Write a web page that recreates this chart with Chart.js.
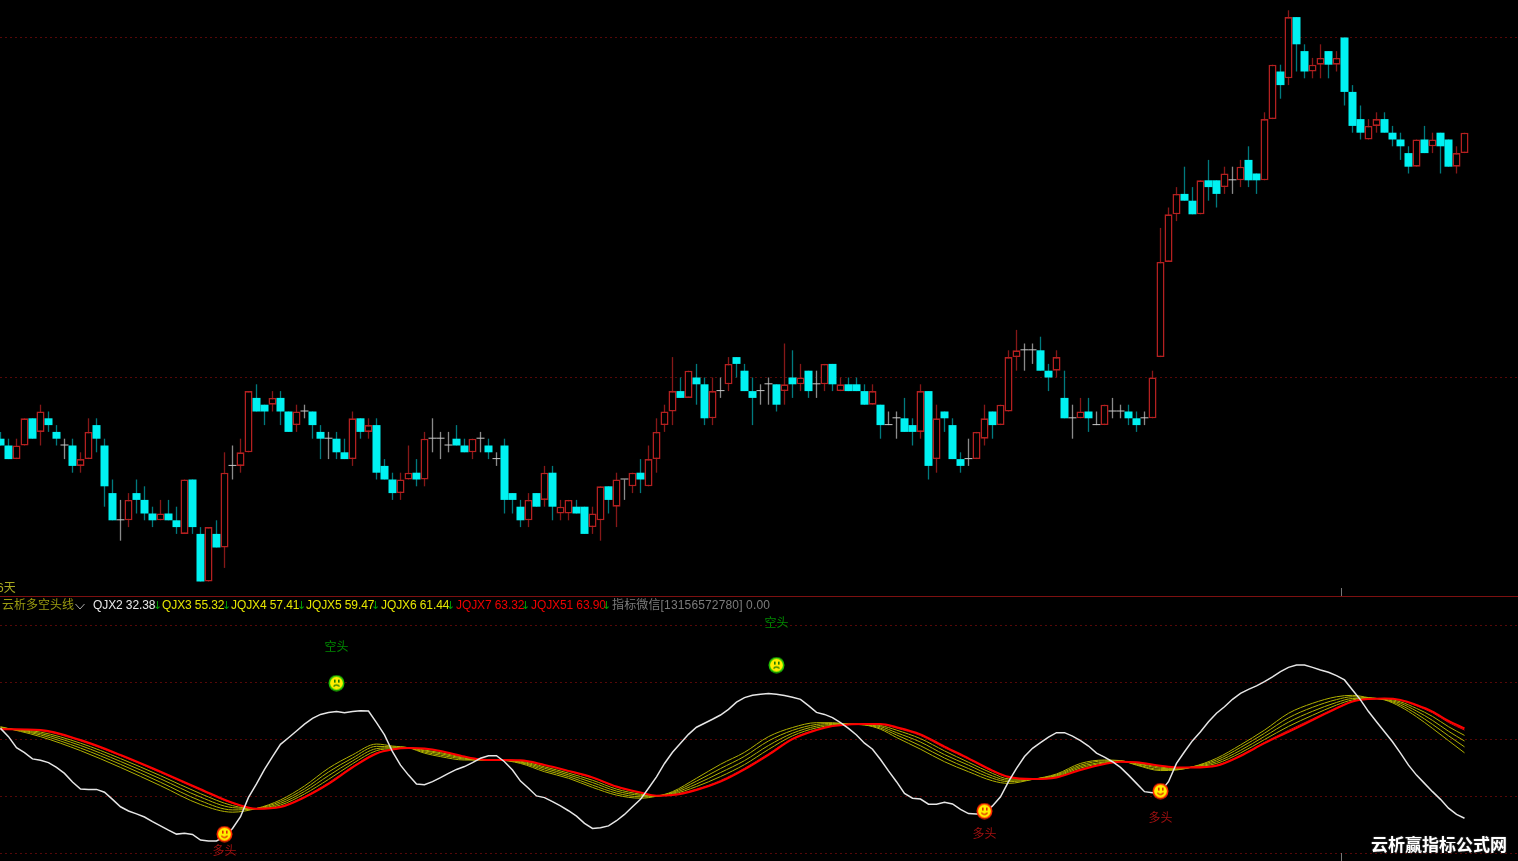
<!DOCTYPE html>
<html>
<head>
<meta charset="utf-8">
<title>云析多空头线</title>
<script src="https://cdn.jsdelivr.net/npm/chart.js@4/dist/chart.umd.min.js"></script>
<style>
  html, body { margin: 0; background: #000; overflow: hidden; }
  #wrap { position: relative; width: 1518px; height: 861px; background: #000; overflow: hidden; }
  canvas { position: absolute; left: 0; }
  #price { top: 0; }
  #sep { position: absolute; left: 0; top: 596px; width: 1518px; height: 1px; background: #7c1010; }
  #ind { top: 597px; }
  .t { position: absolute; white-space: pre; font: 12px "Liberation Sans", "Noto Sans CJK SC", sans-serif; line-height: 14px; }
  .tick { position: absolute; left: 1341px; width: 1px; background: #777; }
  #mark { position: absolute; left: 1371px; top: 832px; font: bold 17px "Noto Sans CJK SC", sans-serif; line-height: 24px; color: #fff; text-shadow: 0 0 2px #555; white-space: pre; }
</style>
</head>
<body>
<div id="wrap">
  <canvas id="price" width="1518" height="596"></canvas>
  <div id="sep"></div>
  <canvas id="ind" width="1518" height="264"></canvas>
  <div class="tick" style="top:588px;height:8px"></div>
  <div class="tick" style="top:853px;height:8px"></div>
  <div class="t" style="left:-3px;top:581px;color:#a8a820">6天</div>
  <div id="legend"></div>
  <div id="mark">云析赢指标公式网</div>
</div>
<script>
// candles, one per bar (8px apart), price in ticks
const opens = [91,90,88,90,94,92,94,92,90,90,87,88,93,90,83,79,79,83,82,80,79,80,79,77,85,77,70,77,75,87,87,89,97,96,96,97,95,93,95,95,92,91,91,89,88,94,92,93,87,85,83,85,86,85,91,91,90,91,90,89,91,90,88,90,83,81,79,83,82,86,80,80,81,81,78,79,84,81,85,84,86,84,88,93,95,98,97,100,99,94,98,99,103,101,98,98,99,99,98,100,99,101,99,99,102,98,99,99,98,96,96,93,94,94,93,92,98,88,95,93,88,88,88,91,95,93,95,103,104,104,104,101,101,97,94,94,95,93,93,95,95,95,94,94,94,103,117,124,127,126,124,129,129,128,129,129,132,130,129,138,145,144,153,148,145,146,148,146,150,142,138,135,137,138,136,135,133,131,135,134,136,135,131,133];
const highs = [92,91,91,94,94,96,95,93,91,91,89,94,94,91,85,82,83,85,84,81,82,82,81,85,85,78,78,79,89,90,91,98,99,96,98,98,95,96,96,95,93,92,92,91,95,94,94,94,88,86,86,90,88,92,94,92,92,93,91,91,92,91,89,91,83,82,83,83,87,87,82,82,82,81,81,84,84,86,85,86,88,90,94,96,103,100,101,102,100,100,100,103,103,102,100,99,100,99,105,104,102,101,101,102,102,100,100,100,99,99,96,95,95,97,94,99,98,96,95,94,89,91,92,96,95,96,104,107,105,105,106,102,104,101,96,97,97,95,96,97,96,96,95,95,101,122,125,128,131,128,129,132,129,131,131,132,134,130,139,146,146,154,153,149,147,149,148,148,150,143,140,138,139,139,137,136,134,135,137,136,136,135,134,136];
const lows = [90,88,88,90,91,90,92,90,88,86,86,88,89,81,79,76,78,80,79,78,79,79,77,77,77,70,70,75,72,85,86,89,95,93,95,93,92,92,94,91,88,88,88,88,87,91,91,85,85,82,82,85,84,84,89,88,89,90,89,88,89,88,87,80,80,78,78,81,81,79,79,79,80,77,77,76,80,78,82,83,83,84,86,92,93,97,97,96,93,93,97,98,100,98,93,96,96,95,96,97,98,97,97,98,98,98,98,98,96,96,91,93,91,92,90,91,85,86,92,88,86,87,88,90,91,93,95,101,101,102,101,98,100,94,91,94,92,93,93,94,94,93,92,93,94,103,117,123,126,124,124,126,125,127,127,128,128,127,129,138,141,143,145,144,144,144,144,145,140,136,135,135,136,136,134,132,130,131,133,133,130,131,130,133];
const closes = [90,88,90,94,91,95,93,91,90,87,88,92,91,84,79,79,82,82,80,79,80,79,78,85,78,70,78,75,86,87,89,98,95,95,97,95,92,95,95,93,91,91,89,88,94,92,93,86,85,83,85,86,85,91,91,91,90,90,89,91,91,89,88,82,82,79,82,81,86,81,81,82,80,77,80,84,82,85,85,86,85,88,92,95,98,97,101,99,94,98,98,102,102,98,97,98,99,96,99,99,100,98,99,102,99,99,98,98,96,98,93,93,94,92,92,98,87,94,94,88,87,88,92,94,93,96,103,104,104,104,101,100,103,94,94,95,94,93,96,95,95,94,93,94,100,117,124,127,126,124,129,128,127,130,129,131,129,129,138,146,143,153,149,145,146,147,146,147,142,137,136,137,138,136,135,134,131,135,133,135,134,131,133,136];
const priceGrid = [100, 150];

// lower pane
const qjx2 = [63.9,61.0,57.1,55.4,53.2,52.7,51.9,50.2,48.1,45.1,42.6,42.5,42.5,41.5,39.0,36.4,34.9,33.9,32.8,31.2,29.7,28.2,26.8,27.1,26.7,24.7,24.4,24.4,25.9,28.8,32.9,39.7,44.4,49.5,54.0,58.3,60.6,63.0,65.4,67.4,68.8,69.5,69.8,69.4,69.8,70.1,70.0,65.9,61.6,55.7,51.0,47.5,44.4,44.1,45.2,46.6,48.1,49.5,50.5,51.9,53.4,54.3,54.3,52.2,49.3,45.4,42.9,40.2,39.6,38.2,36.7,35.0,33.1,30.6,28.8,29.0,29.7,31.5,33.7,36.4,39.0,42.9,46.9,51.6,55.5,58.7,61.8,64.3,65.7,67.1,68.6,70.6,73.1,74.7,75.5,75.9,76.1,75.9,75.4,74.8,74.1,71.9,69.5,68.8,67.7,65.9,63.9,61.6,58.7,56.6,53.0,49.0,45.2,41.1,39.4,39.1,37.3,37.3,38.0,37.4,35.5,34.0,33.9,34.1,36.7,39.9,45.2,49.9,54.0,56.9,58.9,60.8,62.4,62.4,61.2,59.6,57.7,55.2,53.8,52.2,50.2,47.5,44.6,41.7,41.3,41.7,45.2,51.6,55.7,59.6,62.7,66.2,69.2,71.5,74.1,76.2,77.6,78.8,80.3,82.0,83.8,85.3,86.1,86.1,85.3,84.4,83.6,82.4,80.9,77.4,73.9,69.8,66.2,62.7,59.2,55.2,51.0,47.5,44.6,41.7,39.0,35.9,33.7,32.38];
const bandIdx = [0,5,10,15,20,25,29,32,35,38,41,44,47,49,51,53,55,58,60,62,65,68,71,74,77,80,82,84,87,90,93,96,99,102,104,106,108,110,112,115,118,121,124,126,129,132,135,138,140,142,145,147,149,152,155,158,161,164,167,169,171,173,175,177,179,181,183];
const qjx3 = [64.5,61.0,56.1,50.2,43.8,37.2,34.5,35.8,38.8,43.7,49.9,54.6,58.4,57.7,57.1,55.2,54.0,52.8,52.8,52.8,51.6,48.7,46.4,43.2,40.5,39.4,40.1,41.7,46.4,51.3,55.5,61.0,64.2,65.9,65.9,65.4,65.1,63.6,60.7,56.6,52.2,48.7,45.5,44.6,46.0,47.9,51.6,52.8,52.6,51.0,49.1,49.3,50.4,53.4,58.1,63.3,69.2,72.7,75.0,75.5,74.7,73.9,71.5,68.0,63.9,59.6,55.32];
const jqjx4 = [64.3,61.6,57.0,51.3,45.0,38.5,35.3,35.8,38.2,42.7,48.6,53.5,57.6,57.4,57.1,55.6,54.5,53.1,52.8,52.8,51.9,49.3,47.0,44.0,41.2,39.9,40.1,41.4,45.4,49.8,54.1,59.5,63.2,65.3,65.6,65.4,65.2,64.0,61.6,57.8,53.5,49.8,46.4,45.2,46.0,47.6,51.0,52.5,52.5,51.2,49.5,49.5,50.4,52.8,57.2,62.2,67.6,71.3,74.0,75.0,74.6,74.0,72.1,69.0,65.3,61.3,57.41];
const jqjx5 = [64.1,62.1,57.9,52.3,46.2,39.8,36.1,35.8,37.6,41.8,47.3,52.5,56.8,57.1,57.1,56.0,55.0,53.4,52.9,52.8,52.1,49.9,47.6,44.9,41.9,40.4,40.2,41.1,44.4,48.4,52.6,57.9,62.2,64.7,65.3,65.4,65.2,64.5,62.4,59.1,54.7,51.0,47.2,45.7,46.1,47.3,50.5,52.1,52.4,51.5,49.9,49.7,50.3,52.2,56.2,61.1,66.1,69.9,73.0,74.4,74.5,74.1,72.7,70.0,66.7,62.9,59.47];
const jqjx6 = [63.9,62.6,58.7,53.3,47.3,41.0,36.8,35.7,37.0,40.9,46.0,51.5,56.1,56.8,57.0,56.3,55.4,53.7,52.9,52.8,52.4,50.4,48.2,45.7,42.6,40.8,40.2,40.8,43.5,47.0,51.2,56.5,61.3,64.1,65.0,65.3,65.3,64.9,63.3,60.3,56.0,52.0,48.1,46.2,46.1,47.0,50.0,51.8,52.3,51.7,50.3,49.9,50.3,51.6,55.3,60.0,64.6,68.5,72.1,73.9,74.3,74.3,73.2,70.9,68.1,64.5,61.44];
const jqjx7 = [63.7,63.1,59.5,54.3,48.4,42.2,37.6,35.7,36.5,40.0,44.8,50.5,55.3,56.6,57.0,56.7,55.9,53.9,53.0,52.8,52.6,50.9,48.8,46.5,43.3,41.3,40.3,40.6,42.6,45.6,49.9,55.0,60.4,63.5,64.8,65.3,65.4,65.3,64.0,61.4,57.1,53.1,48.8,46.7,46.1,46.8,49.5,51.5,52.2,51.9,50.7,50.1,50.3,51.0,54.5,59.0,63.2,67.2,71.2,73.5,74.2,74.4,73.7,71.8,69.4,66.0,63.32];
const jqjx51 = [63.6,63.3,59.8,54.6,48.7,42.6,37.8,35.7,36.3,39.7,44.4,50.2,55.1,56.5,57.0,56.8,56.0,54.0,53.0,52.8,52.7,51.1,49.0,46.7,43.5,41.4,40.3,40.5,42.3,45.2,49.5,54.6,60.1,63.3,64.7,65.3,65.4,65.4,64.3,61.8,57.5,53.4,49.1,46.9,46.1,46.7,49.3,51.4,52.2,52.0,50.8,50.2,50.2,50.8,54.2,58.7,62.7,66.8,70.9,73.3,74.2,74.4,73.9,72.1,69.8,66.5,63.90];
const indGrid = [20, 40, 60, 80, 100];

// signals
const bullIdx = [28, 123, 145];
const bullVal = [26.8, 34.9, 41.9];
const bullTextVal = [20.9, 27.2, 32.8];
const bearIdx = [42, 97];
const bearVal = [79.8, 86.1];
const bearTextVal = [92.8, 100.9];

const el = id => document.getElementById(id);
const bars = opens.map((_, i) => i);
const pairs = (xs, ys) => xs.map((x, i) => ({ x, y: ys[i] }));

const RED_BODY = "#b42020", RED_WICK = "#861818", CYAN = "#00f2f2", CYAN_WICK = "#007a7e";
const dirOf = i => closes[i] > opens[i] ? 1 : closes[i] < opens[i] ? -1 : 0;

function hiddenX() {
  // 8px per bar, bar 0 centred on x=0.5
  return { type: "linear", display: false, min: -0.0625, max: -0.0625 + 1518 / 8, offset: false };
}
function gridY(min, max, values) {
  return {
    type: "linear", min, max,
    afterBuildTicks: scale => { scale.ticks = values.map(value => ({ value })); },
    ticks: { display: false },
    grid: { color: "#560808", lineWidth: 1, drawTicks: false },
    border: { display: false, dash: [2, 3] }
  };
}
const baseOptions = {
  responsive: false, animation: false, events: [],
  layout: { padding: 0, autoPadding: false },
  plugins: { legend: { display: false }, tooltip: { enabled: false } }
};

new Chart(el("price"), {
  type: "bar",
  data: { datasets: [
    {
      label: "wick", order: 2, grouped: false, barThickness: 1.3, inflateAmount: 0, borderWidth: 0,
      data: bars.map(i => ({ x: i, y: [lows[i], highs[i]] })),
      backgroundColor: ctx => [CYAN_WICK, "#8a8a8a", RED_WICK][dirOf(ctx.dataIndex) + 1]
    },
    {
      label: "body", order: 1, grouped: false, barThickness: 8, inflateAmount: 0, minBarLength: 1,
      borderSkipped: false,
      data: bars.map(i => ({ x: i, y: [opens[i], closes[i]] })),
      backgroundColor: ctx => [CYAN, "#c8c8c8", "#000"][dirOf(ctx.dataIndex) + 1],
      borderColor: ctx => [CYAN, "#c8c8c8", RED_BODY][dirOf(ctx.dataIndex) + 1],
      borderWidth: ctx => dirOf(ctx.dataIndex) > 0 ? 1.6 : 0
    }
  ] },
  options: { ...baseOptions, scales: { x: hiddenX(), y: gridY(100 - 218.5 / 6.8, 100 + 377.5 / 6.8, priceGrid) } }
});

function face(ring, ink, happy) {
  const c = document.createElement("canvas");
  c.width = c.height = 17;
  const g = c.getContext("2d");
  g.fillStyle = ring;
  g.beginPath(); g.arc(8.5, 8.5, 8, 0, Math.PI * 2); g.fill();
  g.fillStyle = "#ffee00";
  g.beginPath(); g.arc(8.5, 8.5, 6.4, 0, Math.PI * 2); g.fill();
  g.fillStyle = ink;
  g.fillRect(6, 5, 1.6, 3); g.fillRect(10, 5, 1.6, 3);
  g.strokeStyle = ink; g.lineWidth = 1.3;
  g.beginPath();
  if (happy) g.arc(8.5, 8, 3.8, 0.2 * Math.PI, 0.8 * Math.PI);
  else g.arc(8.5, 14, 3.6, 1.2 * Math.PI, 1.8 * Math.PI);
  g.stroke();
  return c;
}

const signalText = {
  id: "signalText",
  afterDatasetsDraw(chart) {
    const { ctx, scales: { x, y } } = chart;
    ctx.save();
    ctx.font = '12px "Noto Sans CJK SC"';
    ctx.textAlign = "center";
    ctx.textBaseline = "middle";
    ctx.fillStyle = "#a01010";
    bullIdx.forEach((k, i) => ctx.fillText("多头", x.getPixelForValue(k), y.getPixelForValue(bullTextVal[i])));
    ctx.fillStyle = "#008a00";
    bearIdx.forEach((k, i) => ctx.fillText("空头", x.getPixelForValue(k), y.getPixelForValue(bearTextVal[i])));
    ctx.restore();
  }
};

const band = (label, values, color, width) => ({
  label, data: pairs(bandIdx, values), borderColor: color, borderWidth: width,
  pointRadius: 0, cubicInterpolationMode: "monotone"
});
new Chart(el("ind"), {
  type: "line",
  data: { datasets: [
    { label: "bear", data: pairs(bearIdx, bearVal), showLine: false, pointStyle: face("#22c000", "#1c7a00", false), pointRadius: 8 },
    { label: "bull", data: pairs(bullIdx, bullVal), showLine: false, pointStyle: face("#ff2a00", "#e03000", true), pointRadius: 8 },
    { label: "QJX2", data: pairs(bars, qjx2), borderColor: "#e6e6e6", borderWidth: 1.5, pointRadius: 0, tension: 0 },
    band("JQJX51", jqjx51, "#ff0000", 2),
    band("JQJX7", jqjx7, "#e01010", 1),
    band("JQJX6", jqjx6, "#b0b000", 1),
    band("JQJX5", jqjx5, "#b0b000", 1),
    band("JQJX4", jqjx4, "#b0b000", 1),
    band("QJX3", qjx3, "#b0b000", 1)
  ] },
  options: { ...baseOptions, scales: { x: hiddenX(), y: gridY(60 - 121.5 / 2.85, 60 + 142.5 / 2.85, indGrid) } },
  plugins: [signalText]
});

// header row of the indicator pane
const legendRow = [
  ["QJX2 " + qjx2[183].toFixed(2), "#e8e8e8", 93, 156],
  ["QJX3 " + qjx3[66].toFixed(2), "#e6e600", 162, 225],
  ["JQJX4 " + jqjx4[66].toFixed(2), "#e6e600", 231, 300],
  ["JQJX5 " + jqjx5[66].toFixed(2), "#e6e600", 306, 374],
  ["JQJX6 " + jqjx6[66].toFixed(2), "#e6e600", 381, 449],
  ["JQJX7 " + jqjx7[66].toFixed(2), "#f00000", 456, 524],
  ["JQJX51 " + jqjx51[66].toFixed(2), "#f00000", 531, 605]
];
let html = `<div class="t" style="left:2px;top:598px;color:#9a9a10">云析多空头线</div>
  <svg style="position:absolute;left:75px;top:603px" width="10" height="7"><polyline points="0.5,1 5,6 9.5,1" fill="none" stroke="#a8a8a8"/></svg>`;
legendRow.forEach(([text, color, left, arrow]) => {
  html += `<div class="t" style="left:${left}px;top:598px;letter-spacing:-0.1px;color:${color}">${text}</div>`;
  html += `<div class="t" style="left:${arrow - 3}px;top:599px;color:#00a000;font:11px 'DejaVu Sans';line-height:14px">↓</div>`;
});
html += `<div class="t" style="left:612px;top:598px;letter-spacing:0.15px;color:#7c7c7c">指标微信[13156572780] 0.00</div>`;
el("legend").innerHTML = html;
</script>
</body>
</html>
